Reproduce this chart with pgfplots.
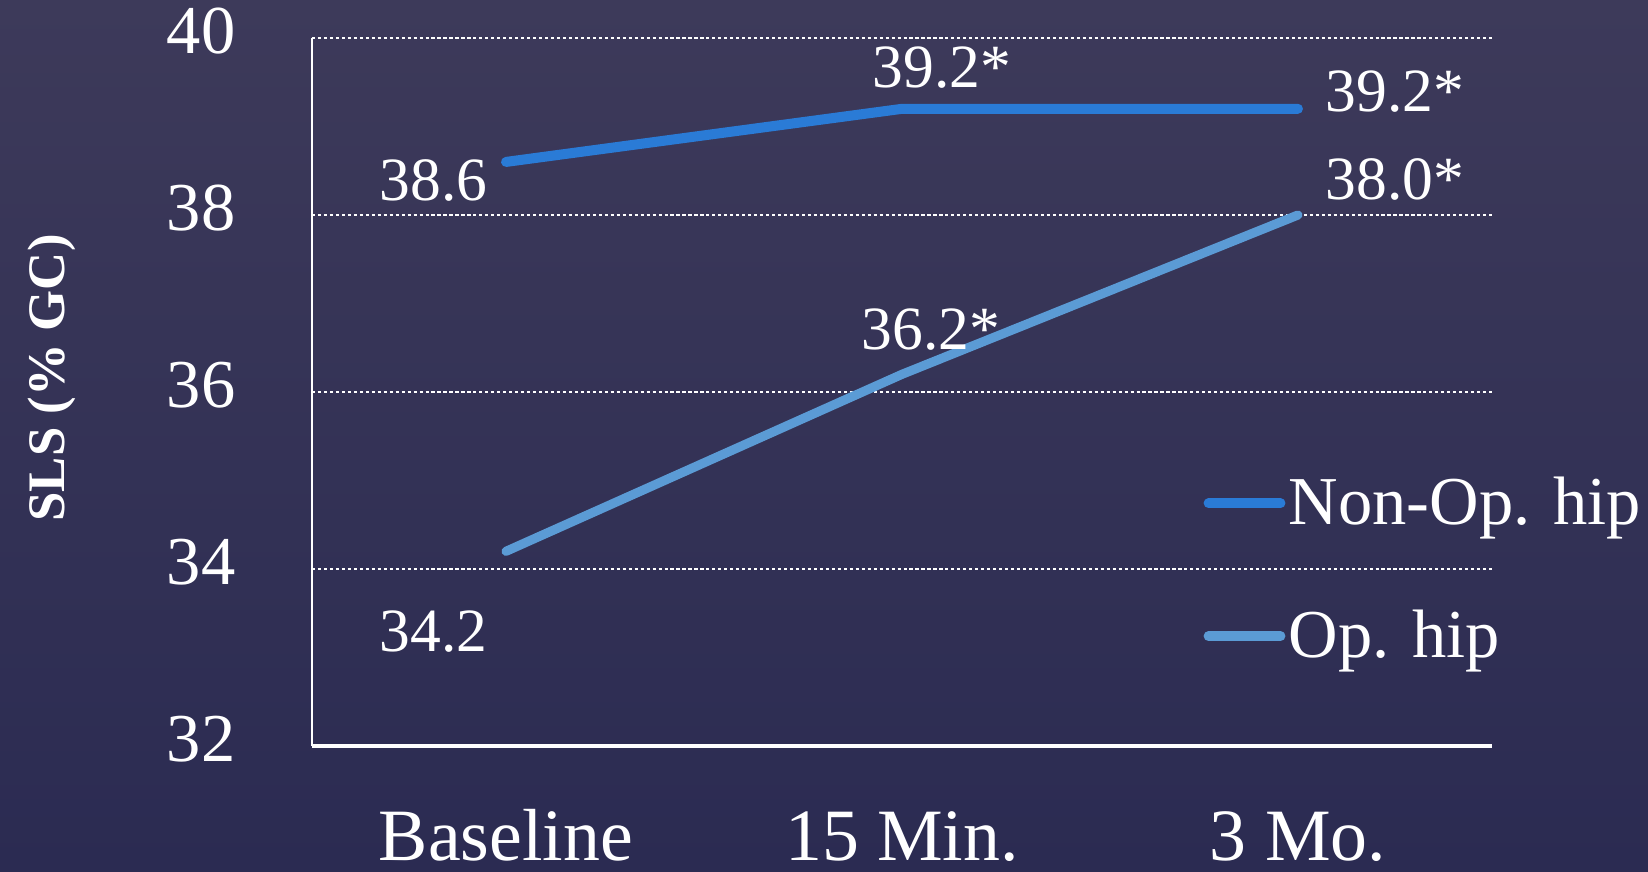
\documentclass[border=0pt]{standalone}
\usepackage{fontspec}
\setmainfont{Liberation Serif}
\usepackage{pgfplots}
\pgfplotsset{compat=1.18}
\definecolor{bgtop}{HTML}{3D3A5A}
\definecolor{bgbot}{HTML}{2B2B52}
\definecolor{nonop}{HTML}{2A7BD6}
\definecolor{op}{HTML}{5B9BD5}
\begin{document}
\begin{tikzpicture}
\useasboundingbox (-3.12cm,-1.25cm) rectangle (13.36cm,7.46cm);
\shade[top color=bgtop, bottom color=bgbot] (-3.12cm,-1.25cm) rectangle (13.36cm,7.46cm);
\begin{axis}[at={(0,0)}, anchor=south west,
  width=11.8cm, height=7.08cm, scale only axis,
  xmin=-0.49, xmax=2.49, ymin=32, ymax=40,
  axis x line*=bottom, axis y line*=left,
  axis line style={white,-},
  x axis line style={line width=1.1pt},
  y axis line style={line width=0.6pt},
  xtick={0,1,2}, xticklabels={Baseline,15 Min.,3 Mo.},
  ytick={32,34,36,38,40},
  major tick length=0pt,
  /pgf/number format/assume math mode=true,
  ymajorgrids,
  grid style={white, line width=0.8pt, dash pattern=on 0.9pt off 0.8pt},
  xticklabel style={text=white, font=\fontsize{21pt}{25pt}\selectfont, anchor=base, inner sep=0pt, yshift=-1.14cm},
  yticklabel style={text=white, font=\fontsize{19.5pt}{24pt}\selectfont, anchor=base east, inner sep=0pt, xshift=-0.76cm, yshift=-0.15cm},
  ylabel={\textbf{SLS (\% GC)}},
  ylabel style={text=white, font=\fontsize{15pt}{18pt}\selectfont, at={(axis description cs:-0.2203,0.52)}, anchor=center},
  clip=false,
  legend style={draw=none, fill=none, text=white, font=\fontsize{19.5pt}{24pt}\selectfont,
    at={(rel axis cs:0.755,0.249)}, anchor=west, row sep=0.73cm, inner sep=0pt,
    nodes={inner sep=1pt}},
  legend cell align=left,
  legend image code/.code={\draw[#1, line width=2.8pt, line cap=round] (0cm,0cm) -- (0.72cm,0cm);},
]
\addplot[nonop, line width=2.85pt, line cap=round, line join=round] coordinates {(0,38.6) (1,39.2) (2,39.2)};
\addlegendentry{Non-Op. hip}
\addplot[op, line width=2.6pt, line cap=round, line join=round] coordinates {(0,34.2) (1,36.2) (2,38.0)};
\addlegendentry{Op. hip}
\begin{scope}[every node/.style={text=white, inner sep=0pt, font=\fontsize{17.5pt}{21pt}\selectfont}]
\node[anchor=east, xshift=-0.18cm, yshift=-0.19cm] at (axis cs:0,38.6) {38.6};
\node[anchor=east, xshift=-0.18cm, yshift=-0.80cm] at (axis cs:0,34.2) {34.2};
\node[xshift=0.40cm, yshift=0.41cm] at (axis cs:1,39.2) {39.2*};
\node[anchor=west, xshift=0.27cm, yshift=0.17cm] at (axis cs:2,39.2) {39.2*};
\node[anchor=west, xshift=0.27cm, yshift=0.36cm] at (axis cs:2,38.0) {38.0*};
\node[xshift=0.29cm, yshift=0.45cm] at (axis cs:1,36.2) {36.2*};
\end{scope}
\end{axis}
\end{tikzpicture}
\end{document}
